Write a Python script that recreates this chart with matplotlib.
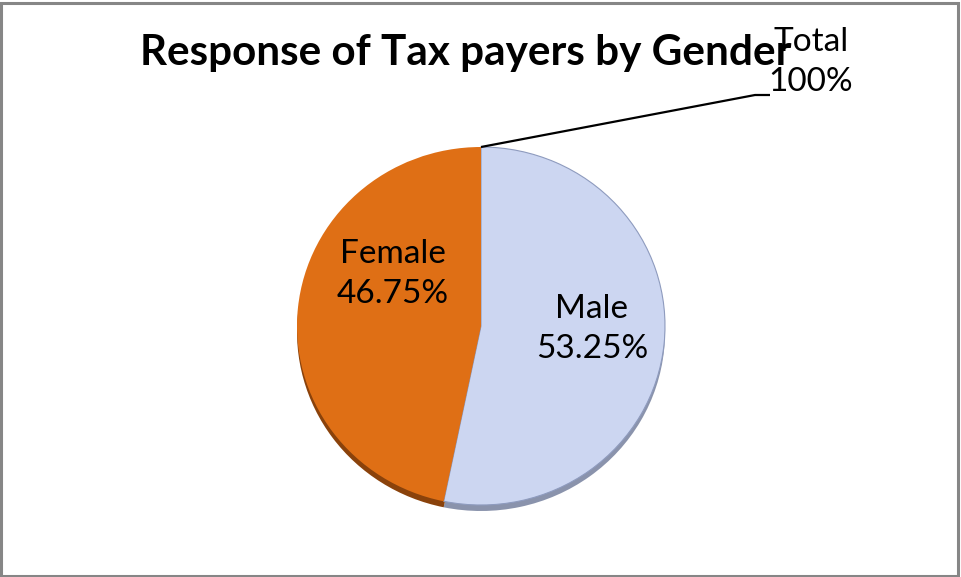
import matplotlib
matplotlib.use("Agg")
import numpy as np
import matplotlib.pyplot as plt
from matplotlib.patches import Rectangle

# Survey responses by gender (percent of tax payers)
categories = ["Male", "Female", "Total"]
shares = [53.25, 46.75, 0.0]
total_label = "Total\n100%"
title = "Response of Tax payers by Gender"

face_colors = ["#CCD6F1", "#DF6F15", "#DF6F15"]
side_colors = ["#8A93AC", "#8A420B", "#8A420B"]

W, H = 961, 577
cx, cy = 481, 326          # pie centre in pixels (from top-left)
rx, ry = 184, 179          # slightly flattened pie

plt.rcParams["font.family"] = ["Lato", "DejaVu Sans"]

fig = plt.figure(figsize=(W / 100, H / 100), dpi=100)
ax = fig.add_axes([0, 0, 1, 1])

# side of the tilted pie, peeking out below the top face
ax.pie(shares, colors=side_colors, startangle=90, counterclock=False,
       radius=1.0, center=(0, -6 / ry), frame=True,
       wedgeprops=dict(linewidth=0))
wedges, _ = ax.pie(shares, colors=face_colors, startangle=90, counterclock=False,
                   radius=1.0, center=(0, 0), frame=True,
                   wedgeprops=dict(linewidth=0.8, edgecolor="none"))
wedges[0].set_edgecolor("#8E9BBE")
wedges[0].set_linewidth(0.8)

ax.set_xlim(-cx / rx, (W - cx) / rx)
ax.set_ylim(-(H - cy) / ry, cy / ry)
ax.set_aspect("auto")
ax.axis("off")


def px(x, y):
    """pixel position (top-left origin) -> pie data coordinates"""
    return (x - cx) / rx, (cy - y) / ry


label_font = dict(fontsize=24, color="black", ha="center", va="center",
                  linespacing=1.38)
fx, fy = px(393, 274)
ax.text(fx, fy, f"{categories[1]}\n{shares[1]:.2f}%", **label_font)
mx, my = px(592, 329)
ax.text(mx, my, f"{categories[0]}\n{shares[0]:.2f}%", **label_font)

# leader line for the zero-size "Total" slice, starting at its wedge angle
theta = np.deg2rad(wedges[2].theta1)
x0, y0 = np.cos(theta), np.sin(theta)
x1, y1 = px(755, 95)
x2, y2 = px(770, 95)
ax.plot([x0, x1, x2], [y0, y1, y2], color="black", lw=1.6,
        solid_capstyle="butt")
tx, ty = px(811, 62)
ax.text(tx, ty, total_label, **label_font)

fig.text(466 / W, 1 - 53 / H, title, fontsize=30.4, fontweight="bold",
         ha="center", va="center")

fig.patches.append(Rectangle((1 / W, 1 / H), (W - 4.5) / W, (H - 3.5) / H,
                             transform=fig.transFigure, fill=False,
                             edgecolor="#868686", linewidth=2.2))

fig.savefig("out.png", dpi=100)
